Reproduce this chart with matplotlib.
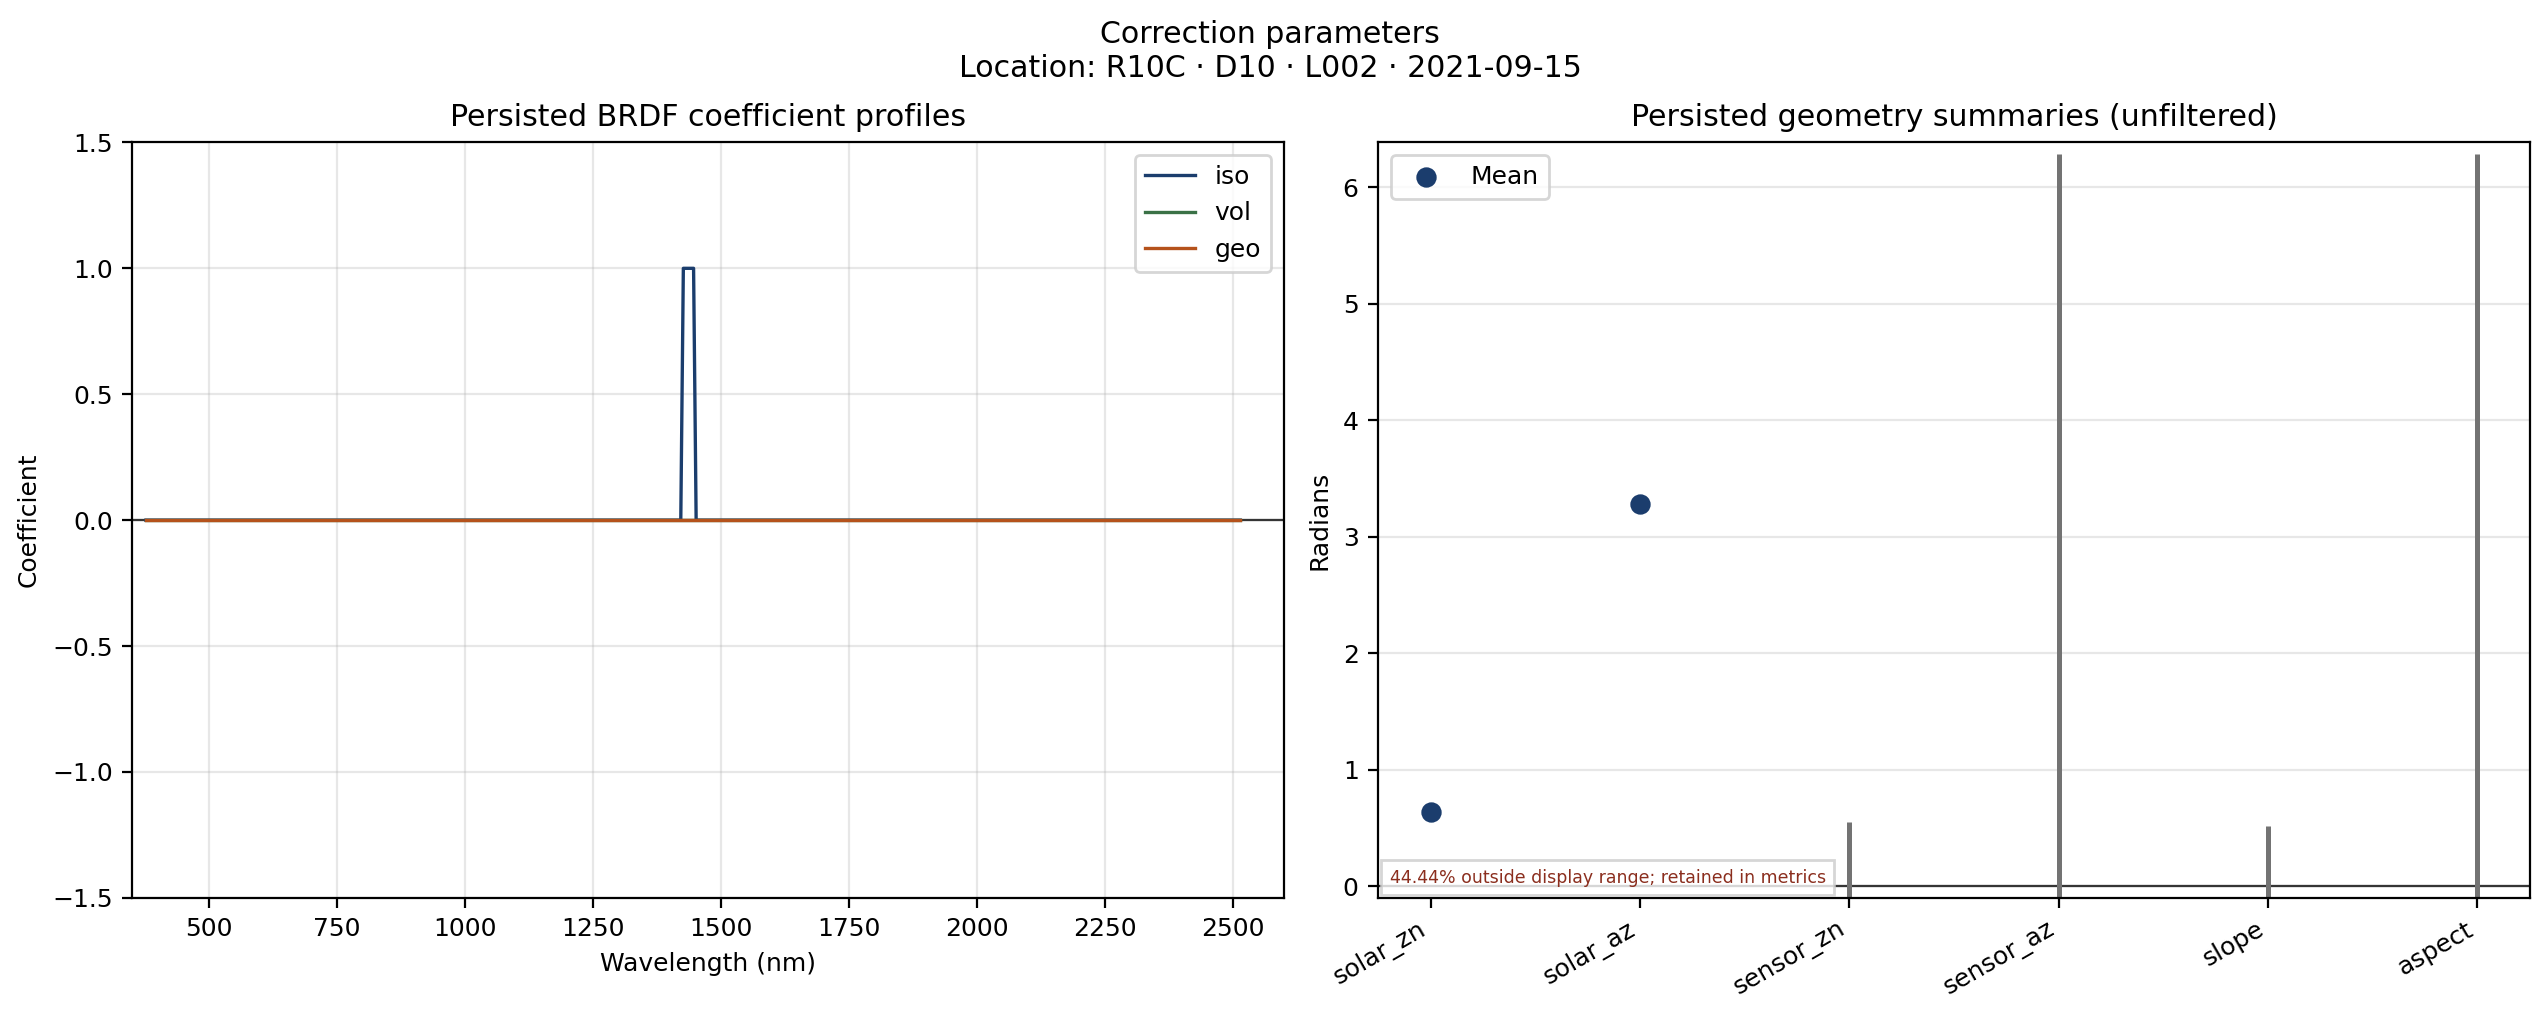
import numpy as np
import matplotlib
matplotlib.use("Agg")
import matplotlib.pyplot as plt

plt.rcParams["font.size"] = 9

# BRDF coefficient profiles (value changes only)
wavelength_nm = [377, 1422, 1427, 1447, 1452, 2515]
iso_coef = [0, 0, 1, 1, 0, 0]
vol_coef = [0, 0, 0, 0, 0, 0]
geo_coef = [0, 0, 0, 0, 0, 0]

# geometry summaries, -9999 = nodata
geom_names = ["solar_zn", "solar_az", "sensor_zn", "sensor_az", "slope", "aspect"]
geom_min = [0.64, 3.28, -9999, -9999, -9999, -9999]
geom_mean = [0.64, 3.28, -9999, -9999, -9999, -9999]
geom_max = [0.64, 3.28, 0.55, 6.2832, 0.52, 6.2832]

ylo, yhi = -0.1, 2 * np.pi + 0.1

fig, (ax1, ax2) = plt.subplots(1, 2, figsize=(12.7, 5.05), dpi=200)
fig.subplots_adjust(left=0.052, right=0.996, top=0.859, bottom=0.111, wspace=0.082)

ax1.axhline(0, color="black", lw=0.8, zorder=1)
ax1.plot(wavelength_nm, iso_coef, color="#1b3d6d", lw=1.2, label="iso")
ax1.plot(wavelength_nm, vol_coef, color="#3a7146", lw=1.2, label="vol")
ax1.plot(wavelength_nm, geo_coef, color="#b5521b", lw=1.2, label="geo")
ax1.set_xlim(350, 2600)
ax1.set_ylim(-1.5, 1.5)
ax1.set_xlabel("Wavelength (nm)")
ax1.set_ylabel("Coefficient")
ax1.set_title("Persisted BRDF coefficient profiles")
ax1.grid(True, alpha=0.3)
ax1.legend(loc="upper right")

x = np.arange(len(geom_names))
ax2.axhline(0, color="black", lw=0.8, zorder=1)
ax2.vlines(x, geom_min, geom_max, color="0.45", lw=1.8, zorder=2)
ax2.scatter(x, geom_mean, color="#1b3d6d", s=40, zorder=3, label="Mean")
ax2.set_ylim(ylo, yhi)
ax2.set_xticks(x)
ax2.set_xticklabels(geom_names, rotation=30, ha="right")
ax2.set_ylabel("Radians")
ax2.set_title("Persisted geometry summaries (unfiltered)")
ax2.grid(True, axis="y", alpha=0.3)
ax2.legend(loc="upper left")

vals = np.array(geom_min + geom_mean + geom_max)
pct = 100 * np.mean((vals < ylo) | (vals > yhi))
ax2.text(0.01, 0.015, f"{pct:.2f}% outside display range; retained in metrics",
         transform=ax2.transAxes, fontsize="x-small", color="#8b2e1e",
         ha="left", va="bottom", zorder=5,
         bbox=dict(boxstyle="square,pad=0.5", facecolor="white", edgecolor="#cccccc", alpha=0.8))

fig.suptitle("Correction parameters\nLocation: R10C · D10 · L002 · 2021-09-15", fontsize=10.8)
fig.savefig("out.png")
